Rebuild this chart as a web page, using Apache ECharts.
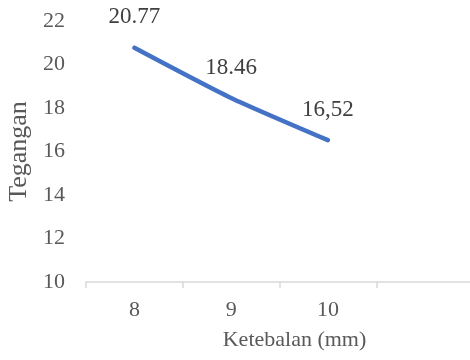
<!DOCTYPE html>
<html>
<head>
<meta charset="utf-8">
<script src="https://cdn.jsdelivr.net/npm/echarts@6/dist/echarts.min.js"></script>
<style>
  html, body { margin: 0; padding: 0; background: #fff; }
  #showChart { width: 470px; height: 360px; }
</style>
</head>
<body>
<div id="showChart"></div>
<script>
var categories = ['8', '9', '10', ''];
var tegangan = [20.77, 18.46, 16.52];
var labelText = ['20.77', '18.46', '16,52'];

function showChart() {
    var dom = document.getElementById("showChart");
    var myChart = echarts.init(dom);
    var font = '"Liberation Serif", "Times New Roman", serif';

    option = {
        animation: false,
        grid: {
            left: 86,
            right: -3,
            top: 21,
            bottom: 78,
            containLabel: false,
            outerBoundsMode: 'none'
        },
        xAxis: {
            type: 'category',
            data: categories,
            boundaryGap: true,
            name: 'Ketebalan (mm)',
            nameLocation: 'middle',
            nameGap: 47,
            nameTextStyle: { color: '#595959', fontSize: 22, fontFamily: font, padding: [0, 0, 0, 30] },
            axisLine: { lineStyle: { color: '#d9d9d9', width: 1.5 } },
            axisTick: { show: true, length: 6, lineStyle: { color: '#d9d9d9', width: 1.5 } },
            axisLabel: { color: '#595959', fontSize: 22, fontFamily: font, margin: 17 }
        },
        yAxis: {
            type: 'value',
            min: 10,
            max: 22,
            interval: 2,
            name: 'Tegangan',
            nameLocation: 'middle',
            nameGap: 52,
            nameTextStyle: { color: '#595959', fontSize: 26, fontFamily: font },
            axisLine: { show: false },
            axisTick: { show: false },
            splitLine: { show: false },
            axisLabel: { color: '#595959', fontSize: 22, fontFamily: font, margin: 21 }
        },
        series: [{
            name: 'Tegangan',
            type: 'line',
            data: tegangan,
            smooth: 0.2,
            symbol: 'circle',
            symbolSize: 2,
            showSymbol: true,
            itemStyle: { color: 'rgba(68,114,196,0)', borderWidth: 0 },
            lineStyle: { color: '#4472c4', width: 4.5, cap: 'round' },
            label: {
                show: true,
                position: 'top',
                distance: 18,
                color: '#404040',
                fontSize: 23,
                fontFamily: font,
                formatter: function (p) { return labelText[p.dataIndex]; }
            }
        }]
    };

    if (option && typeof option === "object") {
        myChart.setOption(option, true);
    }

    window.addEventListener("resize", function () {
        myChart.resize();
    });
}
showChart();
</script>
</body>
</html>
